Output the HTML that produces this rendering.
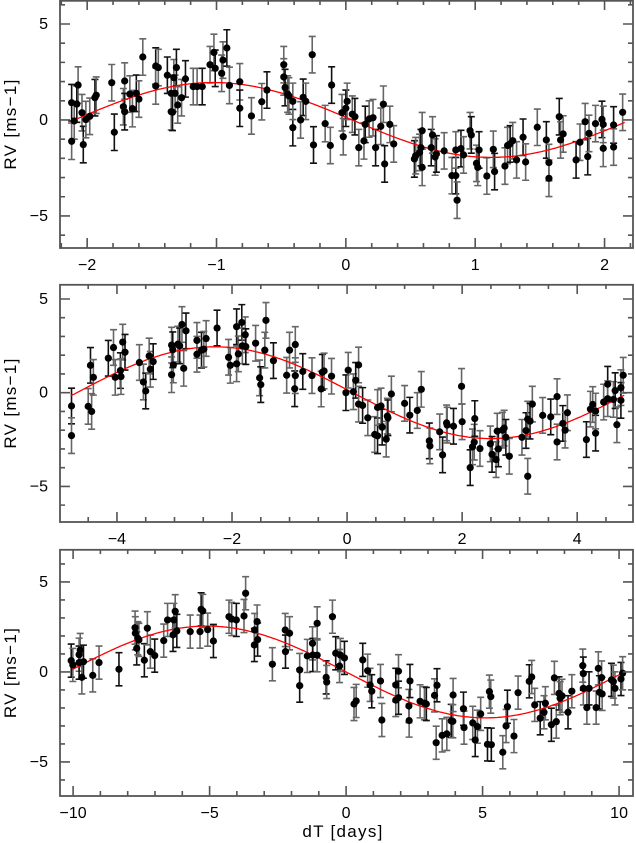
<!DOCTYPE html>
<html><head><meta charset="utf-8"><style>
html,body{margin:0;padding:0;background:#fff;}
svg{display:block;}
text{font-family:"Liberation Sans",sans-serif;fill:#000;}
.title{font-size:17px;letter-spacing:1.3px;}
</style></head><body>
<svg id="chart" width="636" height="843" viewBox="0 0 636 843" xmlns="http://www.w3.org/2000/svg"></svg>
<script>
// ---- Panel 1 data (dT in days, RV in m/s)
const p1X = [-2.12,-2.12,-2.10,-2.08,-2.07,-2.04,-2.03,-2.01,-1.98,-1.94,-1.93,-1.81,-1.79,-1.72,-1.71,-1.71,-1.67,-1.65,-1.62,-1.60,-1.57,-1.47,-1.47,-1.45,-1.38,-1.35,-1.35,-1.34,-1.33,-1.32,-1.31,-1.30,-1.27,-1.24,-1.18,-1.15,-1.11,-1.05,-1.02,-1.01,-0.96,-0.95,-0.92,-0.90,-0.82,-0.82,-0.73,-0.65,-0.61,-0.48,-0.48,-0.47,-0.45,-0.44,-0.41,-0.41,-0.35,-0.33,-0.31,-0.26,-0.25,-0.16,-0.12,-0.11,-0.03,-0.02,0.00,0.01,0.05,0.07,0.10,0.14,0.15,0.18,0.21,0.23,0.27,0.29,0.30,0.34,0.37,0.53,0.54,0.57,0.58,0.59,0.59,0.66,0.67,0.69,0.70,0.76,0.82,0.85,0.85,0.86,0.89,0.91,0.96,0.97,1.01,1.02,1.03,1.09,1.14,1.15,1.23,1.25,1.27,1.29,1.32,1.37,1.39,1.48,1.55,1.57,1.57,1.65,1.66,1.68,1.78,1.81,1.85,1.87,1.88,1.93,1.98,1.99,1.99,2.07,2.07,2.14];
const p1Y = [0.90,-1.11,-0.05,0.83,1.82,0.38,-1.28,0.02,0.19,1.16,1.29,1.94,-0.64,0.69,2.03,0.43,1.35,0.59,1.39,1.09,3.28,2.81,1.77,2.73,2.33,0.43,1.39,0.40,2.20,1.39,2.73,0.78,1.16,2.14,1.74,1.74,1.74,2.88,3.52,2.69,2.43,3.12,3.75,1.80,1.99,0.61,0.21,0.95,1.56,2.88,2.24,1.69,1.35,1.25,-0.40,0.97,0.00,1.18,0.97,3.40,-1.30,-0.19,-1.33,1.82,0.38,-0.87,0.61,0.97,0.30,0.17,-1.44,-1.09,-0.23,0.05,0.12,-1.44,-0.33,0.82,-2.29,-0.23,-1.25,-2.03,-1.86,-1.69,-1.44,-0.56,-2.47,-1.44,-0.78,-1.93,-1.77,-1.61,-2.90,-2.90,-1.56,-4.18,-1.49,-1.82,-0.56,-0.78,-2.26,-2.47,-1.56,-2.92,-1.53,-2.69,-2.40,-1.33,-1.25,-1.08,-2.08,-0.90,-2.19,-0.38,-1.04,-2.22,-3.04,0.17,-1.04,-0.73,-2.08,-1.16,-0.09,-1.91,-0.70,-0.19,0.03,-0.23,-1.48,-0.26,-1.41,0.40];
const p1Err = 0.95;
const p1Model = [1.95, 4.3, 0.05]; // K, P, zero-phase
const p1XTicks = [-2,-1,0,1,2];
const p1XTickLabels = ["−2","−1","0","1","2"];

// ---- Panel 2 data
const p2X = [-4.79,-4.79,-4.50,-4.46,-4.44,-4.41,-4.15,-4.06,-4.03,-3.94,-3.93,-3.90,-3.86,-3.61,-3.54,-3.50,-3.44,-3.42,-3.37,-3.05,-3.05,-3.03,-3.02,-2.94,-2.91,-2.87,-2.84,-2.80,-2.61,-2.61,-2.53,-2.49,-2.45,-2.26,-2.06,-2.03,-1.92,-1.92,-1.89,-1.83,-1.82,-1.77,-1.76,-1.59,-1.52,-1.50,-1.43,-1.41,-1.28,-1.05,-1.00,-0.91,-0.90,-0.90,-0.77,-0.61,-0.45,-0.43,-0.40,-0.27,-0.02,0.02,0.11,0.15,0.20,0.20,0.27,0.36,0.48,0.53,0.53,0.59,0.61,0.68,0.70,0.71,0.77,1.00,1.09,1.22,1.29,1.43,1.44,1.61,1.66,1.73,1.74,1.85,1.99,2.00,2.14,2.18,2.21,2.22,2.31,2.49,2.52,2.59,2.61,2.63,2.70,2.73,2.76,2.82,3.04,3.11,3.14,3.14,3.18,3.22,3.40,3.54,3.65,3.65,3.75,3.79,3.83,4.16,4.23,4.27,4.32,4.32,4.46,4.53,4.53,4.63,4.66,4.69,4.76,4.76,4.80];
const p2Y = [-0.71,-2.29,-0.73,1.46,-1.00,0.82,1.84,2.41,0.82,1.18,0.86,2.70,2.16,1.61,0.57,0.09,1.96,1.25,1.66,2.54,0.96,2.29,1.48,2.59,2.50,3.64,1.30,3.30,2.79,2.05,2.27,2.32,2.89,3.45,1.89,1.46,3.52,1.54,2.07,3.75,2.50,3.09,2.46,2.64,0.79,0.43,2.27,3.86,1.71,0.93,2.27,0.21,2.57,0.91,1.13,0.91,0.20,1.09,1.16,0.88,0.00,1.20,0.05,0.66,1.48,-0.61,-0.68,-1.34,-2.23,-2.30,-0.79,-0.71,-1.84,-2.48,-1.25,-1.34,-0.07,-0.57,-1.20,-0.95,0.18,-2.57,-2.84,-2.09,-3.32,-1.61,-1.73,-1.79,0.34,-1.55,-4.00,-2.89,-2.64,-1.38,-2.98,-2.73,-3.29,-3.57,-2.05,-3.00,-2.00,-1.89,-2.38,-3.39,-2.38,-2.02,-1.41,-4.46,-1.52,-0.61,-1.21,-1.29,-0.21,-2.63,-1.64,-2.00,-1.07,-2.50,-0.88,-0.63,-2.16,-0.98,-0.50,0.45,-0.32,-0.36,0.11,-1.71,0.27,-0.41,0.93];
const p2Err = 0.95;
const p2Model = [2.45, 9.6, 0.1];
const p2XTicks = [-4,-2,0,2,4];
const p2XTickLabels = ["−4","−2","0","2","4"];

// ---- Panel 3 data
const p3X = [-10.07,-10.01,-9.78,-9.78,-9.74,-9.68,-9.62,-9.28,-9.05,-8.32,-7.73,-7.72,-7.67,-7.63,-7.59,-7.39,-7.28,-7.17,-7.01,-6.68,-6.54,-6.34,-6.31,-6.26,-6.20,-5.71,-5.35,-5.31,-5.25,-5.07,-4.86,-4.29,-4.19,-4.02,-3.74,-3.68,-3.36,-3.35,-3.26,-3.24,-2.70,-2.23,-2.22,-2.07,-1.70,-1.70,-1.42,-1.23,-1.22,-1.06,-1.06,-0.73,-0.71,-0.50,-0.38,-0.24,-0.21,-0.06,0.29,0.37,0.61,0.79,0.88,0.94,1.26,1.31,1.82,1.82,1.92,1.92,2.30,2.31,2.34,2.71,2.87,2.94,3.24,3.30,3.33,3.52,3.69,3.85,3.91,3.92,4.30,4.32,4.64,4.73,4.81,4.93,5.18,5.25,5.30,5.32,5.74,5.86,5.91,6.15,6.30,6.71,6.80,6.91,7.11,7.25,7.30,7.52,7.63,7.70,7.80,7.84,7.91,8.13,8.27,8.67,8.69,8.69,8.82,8.90,9.16,9.24,9.28,9.36,9.38,9.72,9.79,9.85,10.07,10.13];
const p3Y = [0.63,0.39,0.96,0.52,1.22,-0.30,0.57,-0.19,0.52,0.15,2.46,2.15,1.31,1.87,1.78,0.65,2.43,1.13,0.91,1.74,2.89,2.06,2.89,3.37,2.28,2.24,2.24,3.48,3.39,2.35,1.72,3.07,2.94,2.89,3.11,4.37,1.50,2.33,2.80,1.80,0.43,2.33,1.13,2.15,0.11,-0.76,0.89,1.59,0.94,2.70,0.93,-0.30,-0.56,3.07,1.04,0.33,0.94,0.78,-1.78,-1.61,0.67,0.07,-0.72,-1.07,-0.50,-2.67,-0.72,-1.56,0.04,-1.43,-1.89,-2.70,-0.50,-1.63,-1.74,-1.78,-1.30,-3.93,-0.74,-3.52,-3.44,-2.72,-2.74,-1.28,-2.04,-3.09,-2.83,-3.78,-3.04,-2.33,-4.02,-1.09,-1.37,-4.04,-4.46,-3.00,-1.93,-3.56,-1.15,-0.52,-0.28,-1.83,-2.57,-2.24,-1.74,-2.93,-0.33,-2.76,-1.19,-1.46,-1.33,-2.24,-1.07,0.35,-0.09,-0.91,-1.98,-0.91,-1.98,0.20,-1.13,-0.31,-1.22,-0.44,-0.54,-0.91,-0.39,-0.07];
const p3Err = 0.92;
const p3Model = [2.55, 20.4, 0.0];
const p3XTicks = [-10,-5,0,5,10];
const p3XTickLabels = ["−10","−5","0","5","10"];

const yTicks = [-5,0,5];
const yTickLabels = ["−5","0","5"];

const NS = "http://www.w3.org/2000/svg";
const svg = document.getElementById("chart");
function mk(tag, attrs, parent){
  const e = document.createElementNS(NS, tag);
  for (const k in attrs) e.setAttribute(k, attrs[k]);
  (parent||svg).appendChild(e);
  return e;
}

const panels = [
  {key:"top", xs:p1X, ys:p1Y, err:p1Err, model:p1Model, xt:p1XTicks, xtl:p1XTickLabels, minor:0.2,
   left:60, right:633, top:0, bottom:248, xd:[-2.21,2.22], yd:[-6.67,6.25]},
  {key:"middle", xs:p2X, ys:p2Y, err:p2Err, model:p2Model, xt:p2XTicks, xtl:p2XTickLabels, minor:0.5,
   left:60, right:633, top:284, bottom:522, xd:[-4.99,4.97], yd:[-6.9,5.8]},
  {key:"bottom", xs:p3X, ys:p3Y, err:p3Err, model:p3Model, xt:p3XTicks, xtl:p3XTickLabels, minor:1,
   left:60, right:633, top:549, bottom:796, xd:[-10.48,10.51], yd:[-6.89,6.83]}
];

panels.forEach(p => {
  const sx = v => p.left + (v - p.xd[0]) / (p.xd[1] - p.xd[0]) * (p.right - p.left);
  const sy = v => p.bottom - (v - p.yd[0]) / (p.yd[1] - p.yd[0]) * (p.bottom - p.top);
  const g = mk("g", {});
  
  

  const eg = mk("g", {stroke:"#555", "stroke-width":"1.6", fill:"none"}, g);
  
  
  p.xs.forEach((x, i) => {
    const cx = sx(x), y1 = sy(p.ys[i] - p.err), y2 = sy(p.ys[i] + p.err);
    const path = mk("path", {d:`M${cx},${y1}V${y2}M${cx-3.5},${y1}H${cx+3.5}M${cx-3.5},${y2}H${cx+3.5}`, stroke: i % 3 === 0 ? "#111" : "#666"}, eg);
    
    
  });

  const [K, P, x0] = p.model;
  let d = "";
  for (let k = 0; k <= 300; k++) {
    const x = p.xd[0] + 0.02 + (p.xd[1] - p.xd[0] - 0.04) * k / 300;
    if (x < p.xs[0] - 0.02 || x > p.xs[p.xs.length - 1] + 0.02) continue;
    const y = -K * Math.sin(2 * Math.PI * (x - x0) / P);
    d += (d ? "L" : "M") + sx(x).toFixed(1) + "," + sy(y).toFixed(1);
  }
  const curve = mk("path", {d, stroke:"#f00", "stroke-width":"1.3", fill:"none"}, g);
  
  

  const pg = mk("g", {fill:"#000"}, g);
  
  
  p.xs.forEach((x, i) => {
    const c = mk("circle", {cx:sx(x), cy:sy(p.ys[i]), r:3.6}, pg);
    
    
  });

  const fr = mk("rect", {x:p.left, y:p.top + 0.8, width:p.right - p.left, height:p.bottom - p.top - 0.8, fill:"none", stroke:"#555", "stroke-width":"1.8"}, g);
  
  

  let td = "";
  for (let v = Math.ceil(p.xd[0] / p.minor) * p.minor; v <= p.xd[1]; v += p.minor) {
    const vv = Math.round(v / p.minor) * p.minor;
    const major = p.xt.some(t => Math.abs(t - vv) < 1e-6);
    const L = major ? 10 : 5, X = sx(vv);
    td += `M${X},${p.bottom}v${-L}M${X},${p.top}v${L}`;
  }
  for (let v = Math.ceil(p.yd[0]); v <= p.yd[1]; v++) {
    const major = v % 5 === 0;
    const L = major ? 10 : 5, Y = sy(v);
    td += `M${p.left},${Y}h${L}M${p.right},${Y}h${-L}`;
  }
  const ticks = mk("path", {d:td, stroke:"#555", "stroke-width":"1.6", fill:"none"}, g);
  
  

  p.xt.forEach((t, i) => {
    const tx = mk("text", {x:sx(t), y:p.bottom + 22, "font-size":"16", "text-anchor":"middle"}, g);
    tx.textContent = p.xtl[i];
    
    
  });
  yTicks.forEach((t, i) => {
    const tx = mk("text", {x:p.left - 12, y:sy(t) + 5, "font-size":"16", "text-anchor":"end"}, g);
    tx.textContent = yTickLabels[i];
    
    
  });
  const cy = (p.top + p.bottom) / 2;
  const yl = mk("text", {x:16, y:cy, "class":"title", "text-anchor":"middle", transform:`rotate(-90 16 ${cy})`}, g);
  yl.textContent = "RV [ms−1]";
  
  
});

const xl = mk("text", {x:343, y:837, "class":"title", "text-anchor":"middle"});
xl.textContent = "dT [days]";


</script>
</body></html>
